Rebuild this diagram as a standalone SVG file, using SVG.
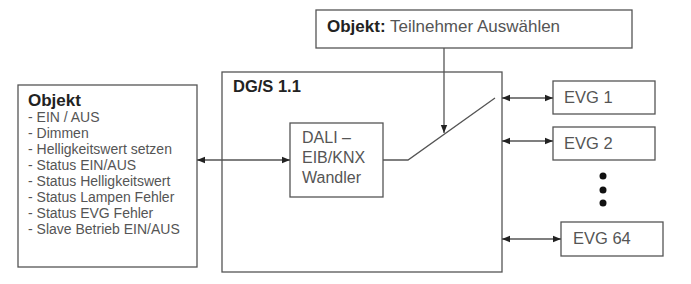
<svg xmlns="http://www.w3.org/2000/svg" width="691" height="284" viewBox="0 0 691 284">
<style>
.box{fill:#fff;stroke:#555;stroke-width:1.3}
.ln{fill:none;stroke:#555;stroke-width:1.3}
.t{font-family:"Liberation Sans",Arial,sans-serif;fill:#555}
.b{font-family:"Liberation Sans",Arial,sans-serif;fill:#222;font-weight:bold}
</style>
<defs>
<marker id="ah" viewBox="0 0 10 10" refX="10" refY="5" markerWidth="8" markerHeight="8" markerUnits="userSpaceOnUse" orient="auto-start-reverse">
<path d="M0,1 L10,5 L0,9 Z" fill="#222"/>
</marker>
</defs>
<rect width="691" height="284" fill="#fff"/>
<g id="objekt">
<rect class="box" x="18" y="85" width="179" height="182"/>
<text class="b" x="28" y="106" font-size="17">Objekt</text>
<g class="t" font-size="14">
<text x="28" y="122">- EIN / AUS</text>
<text x="28" y="138">- Dimmen</text>
<text x="28" y="154">- Helligkeitswert setzen</text>
<text x="28" y="170">- Status EIN/AUS</text>
<text x="28" y="186">- Status Helligkeitswert</text>
<text x="28" y="202">- Status Lampen Fehler</text>
<text x="28" y="218">- Status EVG Fehler</text>
<text x="28" y="234">- Slave Betrieb EIN/AUS</text>
</g>
</g>
<g id="dgs">
<rect class="box" x="222" y="72" width="280" height="200"/>
<text class="b" x="233" y="92" font-size="16.5">DG/S 1.1</text>
</g>
<g id="teilnehmer">
<rect class="box" x="316" y="10" width="316" height="38"/>
<text x="327" y="32" font-size="17" font-family="Liberation Sans,Arial,sans-serif"><tspan font-weight="bold" fill="#222">Objekt:</tspan><tspan fill="#555"> Teilnehmer Auswählen</tspan></text>
</g>
<g id="dali">
<rect class="box" x="290" y="123" width="93" height="74"/>
<g class="t" font-size="16">
<text x="302" y="143">DALI –</text>
<text x="302" y="163">EIB/KNX</text>
<text x="302" y="183">Wandler</text>
</g>
</g>
<g id="evg1">
<rect class="box" x="553" y="81" width="102" height="33"/>
<text class="t" x="564" y="103" font-size="16.5">EVG 1</text>
</g>
<g id="evg2">
<rect class="box" x="553" y="127" width="102" height="33"/>
<text class="t" x="564" y="149" font-size="16.5">EVG 2</text>
</g>
<g id="evg64">
<rect class="box" x="561" y="222" width="102" height="34"/>
<text class="t" x="573" y="244" font-size="16.5">EVG 64</text>
</g>
<g id="dots" fill="#111">
<circle cx="603" cy="176" r="3.5"/>
<circle cx="603" cy="190" r="3.5"/>
<circle cx="603" cy="203" r="3.5"/>
</g>
<g id="connectors">
<line class="ln" x1="197" y1="160" x2="290" y2="160" marker-start="url(#ah)" marker-end="url(#ah)"/>
<polyline class="ln" points="383,160 408,160 495,98"/>
<line class="ln" x1="444" y1="48" x2="444" y2="133" marker-end="url(#ah)"/>
<line class="ln" x1="502" y1="98" x2="553" y2="98" marker-start="url(#ah)" marker-end="url(#ah)"/>
<line class="ln" x1="502" y1="141" x2="553" y2="141" marker-start="url(#ah)" marker-end="url(#ah)"/>
<line class="ln" x1="502" y1="239" x2="561" y2="239" marker-start="url(#ah)" marker-end="url(#ah)"/>
</g>
</svg>
